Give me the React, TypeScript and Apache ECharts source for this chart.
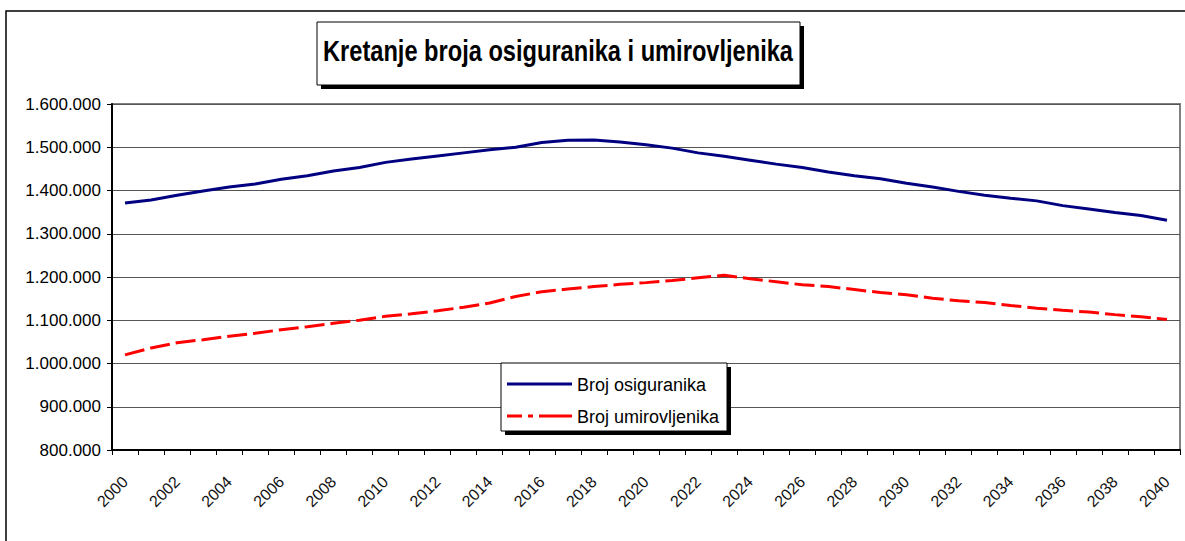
import React, { useEffect, useRef } from "react";
import * as echarts from "echarts";

const years = [
  "2000", "2001", "2002", "2003", "2004", "2005", "2006", "2007", "2008", "2009",
  "2010", "2011", "2012", "2013", "2014", "2015", "2016", "2017", "2018", "2019",
  "2020", "2021", "2022", "2023", "2024", "2025", "2026", "2027", "2028", "2029",
  "2030", "2031", "2032", "2033", "2034", "2035", "2036", "2037", "2038", "2039",
  "2040",
];

// Broj osiguranika (insured persons)
const insured = [
  1371000, 1378000, 1389000, 1399000, 1408000, 1415000, 1426000, 1434000, 1445000, 1453000,
  1465000, 1473000, 1480000, 1487000, 1494000, 1500000, 1511000, 1516000, 1517000, 1512000,
  1506000, 1498000, 1487000, 1479000, 1470000, 1461000, 1453000, 1443000, 1434000, 1427000,
  1417000, 1408000, 1398000, 1389000, 1382000, 1376000, 1365000, 1357000, 1349000, 1342000,
  1331000,
];

// Broj umirovljenika (pensioners)
const retired = [
  1020000, 1036000, 1048000, 1055000, 1063000, 1070000, 1078000, 1085000, 1093000, 1100000,
  1109000, 1115000, 1122000, 1130000, 1140000, 1155000, 1166000, 1172000, 1178000, 1183000,
  1187000, 1192000, 1198000, 1204000, 1196000, 1189000, 1182000, 1178000, 1171000, 1164000,
  1159000, 1151000, 1145000, 1141000, 1134000, 1128000, 1123000, 1119000, 1113000, 1108000,
  1102000,
];

const seriesNames = ["Broj osiguranika", "Broj umirovljenika"];
const seriesColors = ["#000080", "#ff0000"];
const titleText = "Kretanje broja osiguranika i umirovljenika";
const yMin = 800000;
const yMax = 1600000;
const yStep = 100000;

const SANS = "'Liberation Sans', Arial, sans-serif";

function fmt(v: number): string {
  return String(Math.round(v)).replace(/\B(?=(\d{3})+(?!\d))/g, ".");
}

export default function App() {
  const ref = useRef<HTMLDivElement>(null);

  useEffect(() => {
    if (!ref.current) return;
    const chart = echarts.init(ref.current, undefined, { renderer: "svg" });
    chart.setOption({
      animation: false,
      backgroundColor: "#ffffff",
      grid: {
        left: 112,
        right: 5,
        top: 104,
        bottom: 91,
        show: true,
        borderColor: "#808080",
        borderWidth: 2,
        backgroundColor: "#ffffff",
      },
      xAxis: {
        type: "category",
        data: years,
        boundaryGap: true,
        axisLine: { show: true, lineStyle: { color: "#000000", width: 2 } },
        axisTick: { show: true, interval: 0, length: 5, lineStyle: { color: "#000000", width: 1 } },
        axisLabel: {
          interval: 1,
          rotate: 45,
          margin: 29,
          color: "#111111",
          fontSize: 16,
          fontFamily: SANS,
        },
        splitLine: { show: false },
      },
      yAxis: {
        type: "value",
        min: yMin,
        max: yMax,
        interval: yStep,
        axisLine: { show: true, lineStyle: { color: "#000000", width: 2 } },
        axisTick: { show: true, length: 5, lineStyle: { color: "#000000", width: 1 } },
        axisLabel: {
          margin: 11,
          color: "#000000",
          fontSize: 17,
          fontFamily: SANS,
          formatter: (v: number) => fmt(v),
        },
        splitLine: { show: true, lineStyle: { color: "#555555", width: 1 } },
      },
      legend: {
        orient: "vertical",
        left: 507,
        top: 376,
        padding: 0,
        itemWidth: 65,
        itemHeight: 14,
        itemGap: 14,
        selectedMode: false,
        icon: "rect",
        itemStyle: { opacity: 0 },
        textStyle: { fontSize: 18, fontFamily: SANS, color: "#000000" },
        data: seriesNames,
        z: 5,
      },
      series: [
        {
          name: seriesNames[0],
          type: "line",
          data: insured,
          symbol: "none",
          smooth: false,
          color: seriesColors[0],
          lineStyle: { color: seriesColors[0], width: 3 },
          z: 2,
        },
        {
          name: seriesNames[1],
          type: "line",
          data: retired,
          symbol: "none",
          smooth: false,
          color: seriesColors[1],
          lineStyle: { color: seriesColors[1], width: 3, type: [20, 6] },
          z: 2,
        },
      ],
      graphic: [
        {
          type: "rect",
          z: 1,
          silent: true,
          shape: { x: 6, y: 11, width: 1300, height: 700 },
          style: { fill: "none", stroke: "#000000", lineWidth: 1.5 },
        },
        {
          type: "rect",
          z: 3,
          silent: true,
          shape: { x: 321, y: 26, width: 483, height: 63 },
          style: { fill: "#000000" },
        },
        {
          type: "rect",
          z: 3,
          silent: true,
          shape: { x: 317, y: 22, width: 483, height: 63 },
          style: { fill: "#ffffff", stroke: "#000000", lineWidth: 1 },
        },
        {
          type: "text",
          z: 4,
          silent: true,
          x: 558,
          y: 51,
          scaleX: 0.815,
          style: {
            text: titleText,
            x: 0,
            y: 0,
            fill: "#000000",
            font: "bold 29px " + SANS,
            textAlign: "center",
            textVerticalAlign: "middle",
          },
        },
        {
          type: "rect",
          z: 3,
          silent: true,
          shape: { x: 505, y: 367, width: 226, height: 68 },
          style: { fill: "#000000" },
        },
        {
          type: "rect",
          z: 3,
          silent: true,
          shape: { x: 501, y: 363, width: 226, height: 68 },
          style: { fill: "#ffffff", stroke: "#000000", lineWidth: 1 },
        },
        {
          type: "line",
          z: 4,
          silent: true,
          shape: { x1: 507, y1: 384, x2: 572, y2: 384 },
          style: { stroke: seriesColors[0], lineWidth: 3 },
        },
        {
          type: "line",
          z: 4,
          silent: true,
          shape: { x1: 507, y1: 416, x2: 572, y2: 416 },
          style: { stroke: seriesColors[1], lineWidth: 3, lineDash: [15, 6, 5, 6, 33, 0] },
        },
      ],
    });
    return () => chart.dispose();
  }, []);

  return (
    <div
      ref={ref}
      style={{ position: "fixed", left: 0, top: 0, width: 1185, height: 541, background: "#ffffff" }}
    />
  );
}
